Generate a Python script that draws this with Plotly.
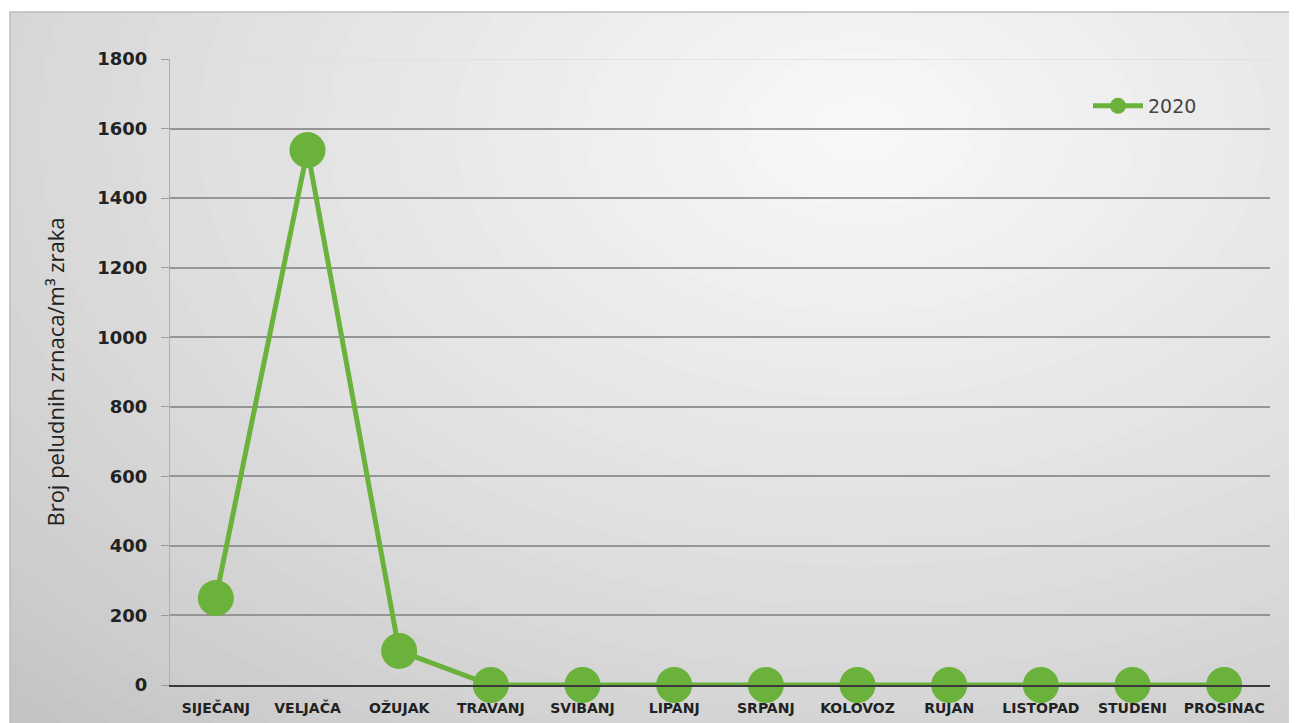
import plotly.graph_objects as go

months = ["SIJEČANJ", "VELJAČA", "OŽUJAK", "TRAVANJ", "SVIBANJ", "LIPANJ",
          "SRPANJ", "KOLOVOZ", "RUJAN", "LISTOPAD", "STUDENI", "PROSINAC"]
values_2020 = [250, 1538, 98, 0, 0, 0, 0, 0, 0, 0, 0, 0]
series_name = "2020"
y_ticks = [0, 200, 400, 600, 800, 1000, 1200, 1400, 1600, 1800]

# page is offset by the 8px body margin
OFF = 8
PAGE_W, PAGE_H = 1297, 723
W, H = PAGE_W - OFF, PAGE_H - OFF
X0, X1 = 170, 1270   # plot area in page px
Y0, Y1 = 59, 685
L, R = X0 - OFF, W - (X1 - OFF)
T, B = Y0 - OFF, H - (Y1 - OFF)
PW, PH = X1 - X0, Y1 - Y0

def px(x):
    return (x - X0) / PW

def py(y):
    return (Y1 - y) / PH

green = "#6ab23c"

fig = go.Figure()
fig.add_trace(go.Scatter(
    x=months, y=values_2020, name=series_name, mode="lines+markers",
    line=dict(color=green, width=5),
    marker=dict(color=green, size=36),
    cliponaxis=False,
))

shapes = []
N = 40
cx, cy = 860, 130
for i in range(N):
    f = i / (N - 1)
    rx = 1250 * (1 - f) + 20
    ry = 820 * (1 - f) + 15
    g = int(round(192 + (248 - 192) * (f ** 0.8)))
    col = f"rgb({g},{g},{g})"
    shapes.append(dict(type="circle", xref="paper", yref="paper", layer="below",
                       x0=px(cx - rx), x1=px(cx + rx), y0=py(cy + ry), y1=py(cy - ry),
                       fillcolor=col, line=dict(width=0)))
shapes.append(dict(type="rect", xref="paper", yref="paper", layer="below",
                   x0=px(-50), x1=px(PAGE_W + 50), y0=py(12), y1=py(-50),
                   fillcolor="white", line=dict(width=0)))
shapes.append(dict(type="rect", xref="paper", yref="paper", layer="below",
                   x0=px(-50), x1=px(10), y0=py(PAGE_H + 50), y1=py(-50),
                   fillcolor="white", line=dict(width=0)))
shapes.append(dict(type="rect", xref="paper", yref="paper", layer="below",
                   x0=px(10), x1=px(PAGE_W + 5), y0=py(PAGE_H + 5), y1=py(12),
                   fillcolor="rgba(0,0,0,0)", line=dict(width=1.5, color="#bdbdbd")))
# faint top gridline at the axis maximum
shapes.append(dict(type="line", xref="paper", yref="y", layer="below",
                   x0=0, x1=1, y0=y_ticks[-1], y1=y_ticks[-1],
                   line=dict(width=1.5, color="#dedede")))

fig.update_layout(
    width=W, height=H,
    margin=dict(l=L, r=R, t=T, b=B, autoexpand=False),
    paper_bgcolor="white",
    plot_bgcolor="rgba(0,0,0,0)",
    shapes=shapes,
    font=dict(family="DejaVu Sans, sans-serif", color="#222222"),
    showlegend=True,
    legend=dict(x=px(1088), y=py(106), xanchor="left", yanchor="middle",
                itemwidth=50,
                bgcolor="rgba(0,0,0,0)",
                font=dict(size=19, color="#444444", family="DejaVu Sans, sans-serif")),
    xaxis=dict(
        type="category", range=[-0.5, 11.5], automargin=False,
        showgrid=False, showline=True, linecolor="#3a3a3a", linewidth=2,
        ticks="", tickfont=dict(size=14, color="#222222",
                                family="DejaVu Sans, sans-serif", weight="bold"),
        ticklabelstandoff=9,
    ),
    yaxis=dict(
        range=[0, 1800], tickvals=y_ticks, ticktext=[str(v) for v in y_ticks],
        automargin=False,
        showgrid=True, gridcolor="#959595", gridwidth=1.5,
        showline=True, linecolor="#b0b0b0", linewidth=1,
        ticks="outside", ticklen=8, tickcolor="#9a9a9a",
        tickfont=dict(size=18, color="#222222", family="DejaVu Sans, sans-serif", weight="bold"),
        ticklabelstandoff=10,
        zeroline=False,
        title=dict(text="Broj peludnih zrnaca/m³ zraka", standoff=26,
                   font=dict(size=22, color="#222222", family="Open Sans, sans-serif")),
    ),
)

fig.write_html("out.html")
